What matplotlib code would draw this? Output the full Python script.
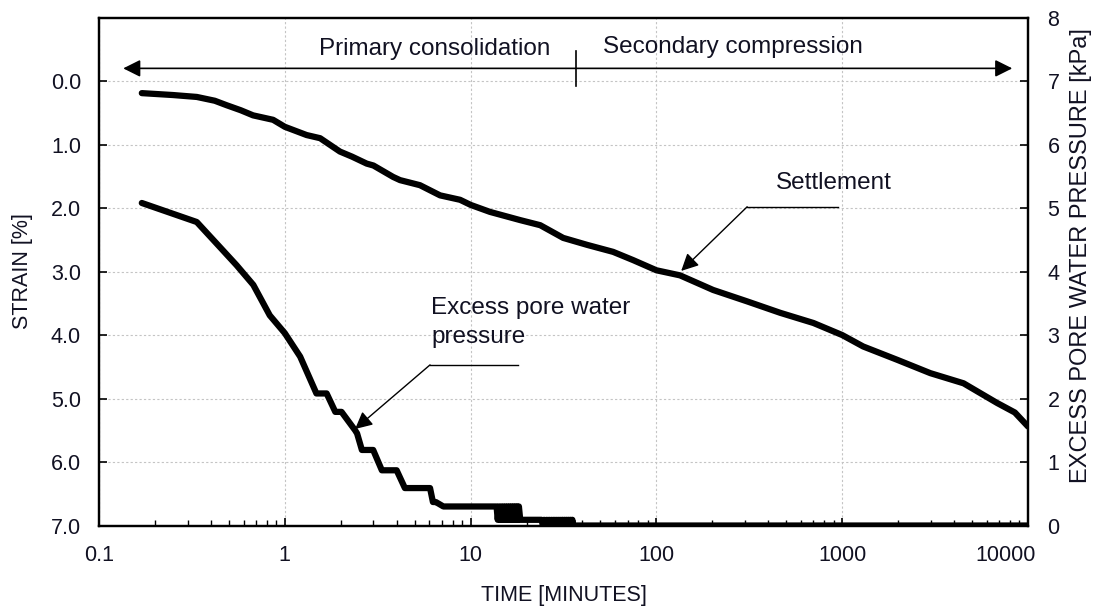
import matplotlib
matplotlib.use("Agg")
import matplotlib.pyplot as plt
import matplotlib.transforms as mtransforms
from matplotlib.ticker import FixedLocator, LogLocator, NullFormatter, FixedFormatter

plt.rcParams['font.family'] = ['Liberation Sans', 'DejaVu Sans']

# ---------------- data ----------------
settle_t = [0.17, 0.25, 0.336, 0.42, 0.486, 0.58, 0.675, 0.865, 1.0, 1.31, 1.55, 1.98, 2.3, 2.76,
            3.0, 3.83, 4.17, 5.34, 6.85, 8.78, 10.0, 12.7, 18.5, 23.7, 31.5, 42.4, 58.5, 75,
            100, 134, 202, 308, 464, 700, 1000, 1297, 1977, 2980, 4500, 6820, 8500, 10000]
settle_strain = [0.19, 0.22, 0.25, 0.31, 0.38, 0.46, 0.54, 0.61, 0.72, 0.85, 0.90, 1.11, 1.19, 1.30,
                 1.33, 1.51, 1.56, 1.64, 1.80, 1.87, 1.95, 2.06, 2.19, 2.27, 2.47, 2.58, 2.69, 2.82,
                 2.98, 3.06, 3.29, 3.47, 3.65, 3.81, 4.00, 4.18, 4.39, 4.60, 4.76, 5.07, 5.22, 5.44]

pore_t = [0.17, 0.336, 0.43, 0.55, 0.677, 0.83, 1.0, 1.21, 1.48, 1.68, 1.87, 2.02,
          2.39, 2.45, 2.60, 2.99, 3.33, 4.0, 4.43, 6.05, 6.27, 6.5, 7.14,
          13.8, 14.0, 14.2, 14.4, 14.6, 14.8, 15.0, 15.2, 15.4, 15.6, 15.8, 16.0, 16.2, 16.4,
          16.6, 16.8, 17.0, 17.2, 17.4, 17.6, 17.8, 18.0, 18.2, 18.5,
          24.1, 24.5, 24.9, 25.3, 25.7, 26.1, 26.5, 26.9, 27.3, 27.7, 28.1, 28.5, 28.9, 29.3,
          29.7, 30.1, 30.5, 30.9, 31.3, 31.7, 32.1, 32.5, 32.9, 33.3, 33.7, 34.1, 34.5, 34.9,
          35.3, 35.6, 40, 100, 1000, 10000]
pore_p = [5.08, 4.78, 4.44, 4.10, 3.79, 3.31, 3.03, 2.66, 2.08, 2.08, 1.79, 1.79,
          1.50, 1.45, 1.19, 1.19, 0.87, 0.87, 0.59, 0.59, 0.37, 0.37, 0.30,
          0.30, 0.09, 0.30, 0.09, 0.30, 0.09, 0.30, 0.09, 0.30, 0.09, 0.30, 0.09, 0.30, 0.09,
          0.30, 0.09, 0.30, 0.09, 0.30, 0.09, 0.30, 0.09, 0.30, 0.09,
          0.09, 0.0, 0.09, 0.0, 0.09, 0.0, 0.09, 0.0, 0.09, 0.0, 0.09, 0.0, 0.09, 0.0,
          0.09, 0.0, 0.09, 0.0, 0.09, 0.0, 0.09, 0.0, 0.09, 0.0, 0.09, 0.0, 0.09, 0.0,
          0.09, 0.0, 0.0, 0.0, 0.0, 0.0]

x_ticks = [0.1, 1, 10, 100, 1000, 10000]
x_tick_labels = ['0.1', '1', '10', '100', '1000', '10000']
strain_ticks = [0, 1, 2, 3, 4, 5, 6, 7]
strain_tick_labels = ['0.0', '1.0', '2.0', '3.0', '4.0', '5.0', '6.0', '7.0']
pressure_ticks = [0, 1, 2, 3, 4, 5, 6, 7, 8]

# ---------------- figure ----------------
fig = plt.figure(figsize=(10.95, 6.06), dpi=100)
ax = fig.add_axes([0.0904, 0.1328, 0.8484, 0.8382])
ax2 = ax.twinx()

FS = 15.5
FA = 17.5
txt_color = '#111122'

ax.set_xscale('log')
ax.set_xlim(0.1, 10000)
ax.set_ylim(7, -1)
ax2.set_ylim(0, 8)

ax.plot(settle_t, settle_strain, color='black', lw=4.5, solid_joinstyle='round',
        solid_capstyle='round', zorder=3)
ax2.plot(pore_t, pore_p, color='black', lw=4.5, solid_joinstyle='round',
         solid_capstyle='round', zorder=3)

# ticks
ax.xaxis.set_major_locator(FixedLocator(x_ticks))
ax.xaxis.set_major_formatter(FixedFormatter(x_tick_labels))
ax.xaxis.set_minor_locator(LogLocator(base=10, subs=range(2, 10), numticks=20))
ax.xaxis.set_minor_formatter(NullFormatter())
ax.yaxis.set_major_locator(FixedLocator(strain_ticks))
ax.yaxis.set_major_formatter(FixedFormatter(strain_tick_labels))
ax2.yaxis.set_major_locator(FixedLocator(pressure_ticks))

ax.tick_params(axis='x', which='major', direction='in', length=6, width=1.2,
               labelsize=FS, pad=14, colors='black', labelcolor=txt_color)
ax.tick_params(axis='x', which='minor', direction='in', length=4, width=1.0)
ax.tick_params(axis='y', which='major', direction='in', length=6, width=1.2,
               labelsize=FS, pad=13, labelcolor=txt_color)
ax2.tick_params(axis='y', which='major', direction='in', length=6, width=1.2,
                labelsize=FS, pad=14, labelcolor=txt_color)

for a in (ax, ax2):
    for s in a.spines.values():
        s.set_linewidth(1.6)
        s.set_color('black')

ax.grid(True, which='major', axis='both', linestyle=(0, (2, 2)), color='#c4c4c4', lw=0.8)
ax.set_axisbelow(True)

ax.set_xlabel('TIME [MINUTES]', fontsize=FS, color=txt_color, labelpad=14)
ax.set_ylabel('STRAIN [%]', fontsize=FS, color=txt_color, labelpad=13)
ax2.set_ylabel('EXCESS PORE WATER PRESSURE [kPa]', fontsize=17, color=txt_color)
ax2.yaxis.set_label_coords(1.045, 0.532)

# keep the last x tick label inside the figure like the original
fig.canvas.draw()
last = ax.get_xticklabels()[-1]
last.set_transform(last.get_transform() + mtransforms.ScaledTranslation(-22 / 100, 0, fig.dpi_scale_trans))

# primary / secondary arrow
ax2.annotate('', xy=(0.135, 7.2), xytext=(8230, 7.2),
             arrowprops=dict(arrowstyle='<|-|>', color='black', lw=1.2,
                             mutation_scale=26, shrinkA=0, shrinkB=0))
ax2.plot([37, 37], [6.92, 7.48], color='black', lw=1.2)
ax2.text(6.4, 7.5, 'Primary consolidation', fontsize=FA, ha='center', va='center', color=txt_color)
ax2.text(259, 7.53, 'Secondary compression', fontsize=FA, ha='center', va='center', color=txt_color)

# settlement annotation
ax2.plot([951, 308], [5.02, 5.02], color='black', lw=1.0)
ax2.annotate('', xy=(136, 4.01), xytext=(308, 5.02),
             arrowprops=dict(arrowstyle='-|>', color='black', lw=1.0,
                             mutation_scale=26, shrinkA=0, shrinkB=0))
ax2.text(442, 5.39, 'Settlement', fontsize=FA, ha='left', va='center', color=txt_color)

# pore pressure annotation
ax2.plot([18.0, 6.05], [2.53, 2.53], color='black', lw=1.0)
ax2.annotate('', xy=(2.39, 1.52), xytext=(6.05, 2.53),
             arrowprops=dict(arrowstyle='-|>', color='black', lw=1.0,
                             mutation_scale=26, shrinkA=0, shrinkB=0))
ax2.text(6.12, 3.2, 'Excess pore water\npressure', fontsize=FA, ha='left', va='center',
         color=txt_color, linespacing=1.4)

fig.savefig('out.png', dpi=100)
